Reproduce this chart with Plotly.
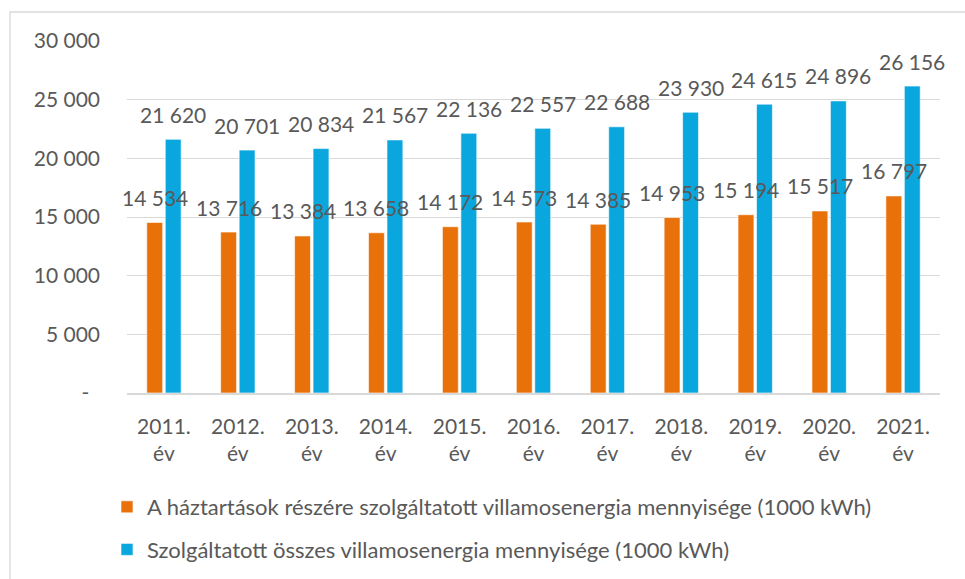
import plotly.graph_objects as go

# Data
years = ["2011.<br>év", "2012.<br>év", "2013.<br>év", "2014.<br>év", "2015.<br>év", "2016.<br>év",
         "2017.<br>év", "2018.<br>év", "2019.<br>év", "2020.<br>év", "2021.<br>év"]
households = [14534, 13716, 13384, 13658, 14172, 14573, 14385, 14953, 15194, 15517, 16797]
total = [21620, 20701, 20834, 21567, 22136, 22557, 22688, 23930, 24615, 24896, 26156]
series_names = [
    "A háztartások részére szolgáltatott villamosenergia mennyisége (1000 kWh)",
    "Szolgáltatott összes villamosenergia mennyisége (1000 kWh)",
]
y_tickvals = [0, 5000, 10000, 15000, 20000, 25000, 30000]
y_ticktext = ["-\u00a0\u00a0", "5 000", "10 000", "15 000", "20 000", "25 000", "30 000"]

ORANGE = "#E8710A"
BLUE = "#0AA7DF"
TEXT = "#595959"
GRID = "#D9D9D9"
FONT = "Lato"

W, H = 965, 579
L, R, T, B = 127, 25, 41, 186
pw, ph = W - L - R, H - T - B


def fmt(v):
    return f"{v:,}".replace(",", " ")


fig = go.Figure()
for name, vals, color, grp in [(series_names[0], households, ORANGE, "a"),
                               (series_names[1], total, BLUE, "b")]:
    fig.add_trace(go.Bar(
        x=years, y=vals, name=name, legendgroup=grp,
        marker=dict(color=color, line=dict(color="rgba(255,255,255,0.6)", width=1)),
    ))

# value labels above each bar
slot = pw / len(years) * 0.5 / 2
for vals, sx in [(households, -slot / 2), (total, slot / 2)]:
    for x, v in zip(years, vals):
        fig.add_annotation(x=x, y=v, text=fmt(v), showarrow=False,
                           xshift=sx, yshift=25, yanchor="middle",
                           font=dict(family=FONT, size=21, color=TEXT))

# outer chart border
fig.add_shape(type="rect", xref="paper", yref="paper",
              x0=(10 - L) / pw, x1=(W + 2 - L) / pw,
              y0=-(B + 3) / ph, y1=1 + (T - 12) / ph,
              line=dict(color=GRID, width=1.3), fillcolor="rgba(0,0,0,0)", layer="below")

fig.update_layout(
    width=W, height=H,
    margin=dict(l=L, r=R, t=T, b=B, autoexpand=False),
    paper_bgcolor="white", plot_bgcolor="white",
    barmode="group", bargap=0.5, bargroupgap=0.14,
    font=dict(family=FONT, size=21, color=TEXT),
    showlegend=True,
    legend=dict(orientation="v", xref="container", yref="container",
                x=107 / W, xanchor="left", y=1 - 486 / H, yanchor="top",
                tracegroupgap=11, font=dict(family=FONT, size=22, color=TEXT),
                bgcolor="rgba(0,0,0,0)"),
    xaxis=dict(range=[-0.5, len(years) - 0.5], autorange=False,
               showgrid=False, showline=True, linecolor=GRID, linewidth=1.5,
               ticks="", ticklabelstandoff=14,
               tickfont=dict(family=FONT, size=21, color=TEXT)),
    yaxis=dict(range=[0, 30000], tickvals=y_tickvals, ticktext=y_ticktext,
               showgrid=True, gridcolor=GRID, gridwidth=1.3, zeroline=False,
               showline=False, ticks="", ticklabelstandoff=26,
               tickfont=dict(family=FONT, size=21, color=TEXT)),
)

fig.write_html("out.html")
